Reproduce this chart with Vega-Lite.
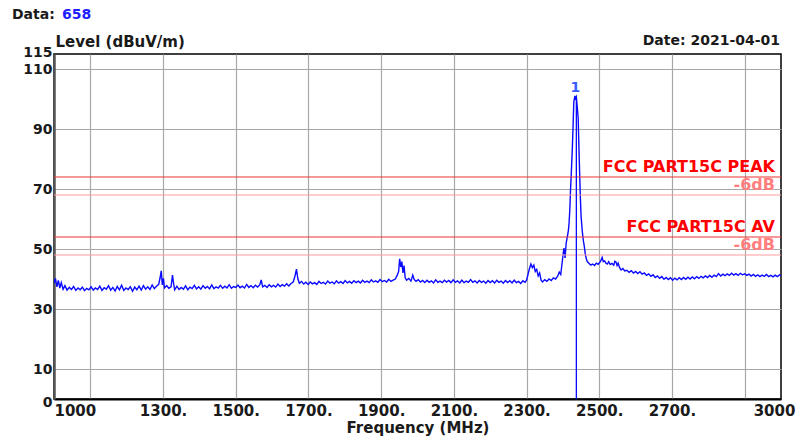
{
  "$schema": "https://vega.github.io/schema/vega-lite/v6.json",
  "width": 727,
  "height": 345,
  "autosize": {"type": "none"},
  "padding": {"left": 54, "top": 54, "right": 14, "bottom": 42},
  "background": "white",
  "config": {
    "font": "DejaVu Sans",
    "view": {"stroke": "black", "strokeWidth": 1.5}
  },
  "datasets": {
    "trace": [
      {"f":1000,"v":38.6},{"f":1004,"v":40.2},{"f":1008,"v":37.4},{"f":1012,"v":39.5},{"f":1016,"v":37.0},{"f":1020,"v":38.8},{"f":1025,"v":36.6},{"f":1030,"v":37.8},{"f":1036,"v":36.3},{"f":1042,"v":37.2},{"f":1048,"v":36.5},{"f":1054,"v":37.5},{"f":1060,"v":36.2},{"f":1066,"v":37.0},{"f":1072,"v":36.4},{"f":1078,"v":37.3},{"f":1084,"v":36.1},{"f":1090,"v":36.9},{"f":1096,"v":36.4},{"f":1102,"v":37.4},{"f":1108,"v":36.3},{"f":1114,"v":37.0},{"f":1120,"v":36.5},{"f":1126,"v":37.6},{"f":1132,"v":36.2},{"f":1138,"v":37.1},{"f":1144,"v":36.6},{"f":1150,"v":37.8},{"f":1156,"v":36.3},{"f":1162,"v":37.2},{"f":1168,"v":36.0},{"f":1174,"v":37.5},{"f":1180,"v":36.4},{"f":1186,"v":37.9},{"f":1192,"v":36.2},{"f":1198,"v":37.0},{"f":1204,"v":36.5},{"f":1210,"v":37.4},{"f":1216,"v":35.9},{"f":1222,"v":37.3},{"f":1228,"v":36.4},{"f":1234,"v":37.6},{"f":1240,"v":36.3},{"f":1246,"v":37.8},{"f":1252,"v":36.6},{"f":1258,"v":37.4},{"f":1264,"v":36.5},{"f":1270,"v":38.0},{"f":1276,"v":36.8},{"f":1282,"v":37.6},{"f":1288,"v":38.2},{"f":1292,"v":40.5},{"f":1295,"v":42.7},{"f":1298,"v":38.0},{"f":1301,"v":40.2},{"f":1304,"v":37.0},{"f":1310,"v":37.8},{"f":1316,"v":36.9},{"f":1322,"v":37.4},{"f":1326,"v":41.3},{"f":1329,"v":38.5},{"f":1332,"v":36.4},
      {"f":1338,"v":37.6},{"f":1344,"v":36.5},{"f":1350,"v":37.2},{"f":1356,"v":36.6},{"f":1362,"v":37.7},{"f":1368,"v":36.4},{"f":1374,"v":37.3},{"f":1380,"v":36.8},{"f":1386,"v":37.9},{"f":1392,"v":36.7},{"f":1398,"v":37.4},{"f":1404,"v":36.6},{"f":1410,"v":37.8},{"f":1416,"v":36.9},{"f":1422,"v":37.5},{"f":1428,"v":36.7},{"f":1434,"v":38.0},{"f":1440,"v":36.8},{"f":1446,"v":37.4},{"f":1452,"v":37.0},{"f":1458,"v":37.9},{"f":1464,"v":36.9},{"f":1470,"v":37.6},{"f":1476,"v":37.0},{"f":1482,"v":38.1},{"f":1488,"v":36.9},{"f":1494,"v":37.5},{"f":1500,"v":37.2},{"f":1506,"v":38.0},{"f":1512,"v":37.1},{"f":1518,"v":37.6},{"f":1524,"v":37.0},{"f":1530,"v":38.2},{"f":1536,"v":37.2},{"f":1542,"v":37.8},{"f":1548,"v":37.1},{"f":1554,"v":37.9},{"f":1560,"v":37.3},{"f":1566,"v":38.0},{"f":1570,"v":39.7},{"f":1574,"v":37.4},{"f":1580,"v":37.9},{"f":1586,"v":37.2},{"f":1592,"v":38.1},{"f":1598,"v":37.4},{"f":1604,"v":37.9},{"f":1610,"v":37.3},{"f":1616,"v":38.3},{"f":1622,"v":37.5},{"f":1628,"v":38.1},{"f":1634,"v":37.6},{"f":1640,"v":38.4},{"f":1646,"v":37.7},{"f":1652,"v":38.5},{"f":1658,"v":39.0},{"f":1663,"v":41.0},{"f":1667,"v":43.3},{"f":1671,"v":40.0},{"f":1675,"v":38.6},{"f":1681,"v":39.2},{"f":1687,"v":38.3},
      {"f":1693,"v":38.9},{"f":1699,"v":38.2},{"f":1705,"v":39.0},{"f":1711,"v":38.4},{"f":1717,"v":38.8},{"f":1723,"v":38.2},{"f":1729,"v":39.2},{"f":1735,"v":38.5},{"f":1741,"v":38.9},{"f":1747,"v":38.3},{"f":1753,"v":39.3},{"f":1759,"v":38.6},{"f":1765,"v":39.0},{"f":1771,"v":38.4},{"f":1777,"v":39.4},{"f":1783,"v":38.6},{"f":1789,"v":39.1},{"f":1795,"v":38.5},{"f":1801,"v":39.5},{"f":1807,"v":38.7},{"f":1813,"v":39.2},{"f":1819,"v":38.6},{"f":1825,"v":39.4},{"f":1831,"v":38.8},{"f":1837,"v":39.3},{"f":1843,"v":38.7},{"f":1849,"v":39.6},{"f":1855,"v":38.9},{"f":1861,"v":39.3},{"f":1867,"v":38.8},{"f":1873,"v":39.7},{"f":1879,"v":39.0},{"f":1885,"v":39.4},{"f":1891,"v":38.9},{"f":1897,"v":39.8},{"f":1903,"v":39.1},{"f":1909,"v":39.5},{"f":1915,"v":39.0},{"f":1921,"v":39.9},{"f":1927,"v":39.2},{"f":1933,"v":39.6},{"f":1939,"v":40.0},{"f":1944,"v":41.2},{"f":1948,"v":42.5},{"f":1951,"v":46.7},{"f":1954,"v":44.0},{"f":1957,"v":45.8},{"f":1960,"v":42.0},{"f":1963,"v":44.5},{"f":1966,"v":40.5},{"f":1970,"v":39.6},{"f":1976,"v":40.2},{"f":1982,"v":39.3},{"f":1987,"v":41.3},{"f":1991,"v":39.8},{"f":1996,"v":39.2},
      {"f":2002,"v":39.8},{"f":2008,"v":39.0},{"f":2014,"v":39.5},{"f":2020,"v":38.8},{"f":2026,"v":39.6},{"f":2032,"v":38.9},{"f":2038,"v":39.4},{"f":2044,"v":38.7},{"f":2050,"v":39.7},{"f":2056,"v":38.9},{"f":2062,"v":39.3},{"f":2068,"v":38.8},{"f":2074,"v":39.6},{"f":2080,"v":39.0},{"f":2086,"v":39.5},{"f":2092,"v":38.8},{"f":2098,"v":39.7},{"f":2104,"v":38.9},{"f":2110,"v":39.4},{"f":2116,"v":38.7},{"f":2122,"v":39.6},{"f":2128,"v":38.8},{"f":2134,"v":39.3},{"f":2140,"v":38.9},{"f":2146,"v":39.8},{"f":2152,"v":38.9},{"f":2158,"v":39.4},{"f":2164,"v":38.7},{"f":2170,"v":39.5},{"f":2176,"v":38.9},{"f":2182,"v":39.3},{"f":2188,"v":38.6},{"f":2194,"v":39.5},{"f":2200,"v":38.8},{"f":2206,"v":39.4},{"f":2212,"v":38.7},{"f":2218,"v":39.6},{"f":2224,"v":38.9},{"f":2230,"v":39.3},{"f":2236,"v":38.6},{"f":2242,"v":39.5},{"f":2248,"v":38.8},{"f":2254,"v":39.4},{"f":2260,"v":38.7},{"f":2266,"v":39.6},{"f":2272,"v":38.8},{"f":2278,"v":39.2},{"f":2284,"v":38.5},{"f":2290,"v":39.4},{"f":2296,"v":38.9},{"f":2300,"v":39.6},{"f":2304,"v":41.5},{"f":2308,"v":43.5},{"f":2312,"v":45.0},{"f":2316,"v":43.8},{"f":2320,"v":44.6},{"f":2324,"v":42.5},{"f":2328,"v":43.2},{"f":2332,"v":41.0},{"f":2336,"v":42.0},{"f":2340,"v":39.6},{"f":2344,"v":39.0},{"f":2350,"v":39.8},{"f":2356,"v":39.2},{"f":2362,"v":40.0},{"f":2368,"v":39.5},{"f":2374,"v":40.4},{"f":2380,"v":40.0},{"f":2386,"v":41.0},{"f":2390,"v":42.3},{"f":2394,"v":41.5},{"f":2398,"v":45.5},{"f":2401,"v":48.7},{"f":2403,"v":50.3},{"f":2406,"v":47.0},{"f":2409,"v":52.0},{"f":2412,"v":54.0},{"f":2415,"v":56.0},{"f":2417,"v":58.7},{"f":2419,"v":63.0},{"f":2421,"v":69.7},{"f":2423,"v":75.0},{"f":2426,"v":83.7},{"f":2428,"v":91.0},{"f":2430,"v":99.0},{"f":2433,"v":101.0},{"f":2435,"v":100.2},{"f":2437,"v":100.7},{"f":2439,"v":98.0},{"f":2442,"v":93.7},{"f":2445,"v":79.7},{"f":2448,"v":67.4},{"f":2450,"v":61.0},{"f":2453,"v":56.3},{"f":2456,"v":53.0},{"f":2459,"v":50.8},{"f":2462,"v":48.0},{"f":2465,"v":46.5},{"f":2467,"v":45.8},{"f":2472,"v":45.2},{"f":2477,"v":44.6},{"f":2482,"v":45.0},{"f":2487,"v":44.5},{"f":2492,"v":45.3},{"f":2497,"v":44.9},{"f":2502,"v":45.6},{"f":2505,"v":46.3},{"f":2508,"v":47.2},{"f":2511,"v":45.8},{"f":2515,"v":46.0},{"f":2518,"v":45.3},{"f":2522,"v":45.0},{"f":2526,"v":45.8},{"f":2530,"v":44.8},{"f":2535,"v":45.2},{"f":2540,"v":44.6},{"f":2543,"v":45.9},{"f":2546,"v":45.7},{"f":2549,"v":44.5},{"f":2552,"v":45.3},{"f":2556,"v":43.8},{"f":2560,"v":43.0},{"f":2565,"v":43.5},{"f":2570,"v":42.7},{"f":2576,"v":42.9},{"f":2582,"v":42.2},{"f":2588,"v":42.8},{"f":2594,"v":42.0},{"f":2600,"v":42.5},{"f":2606,"v":41.8},{"f":2612,"v":42.4},{"f":2618,"v":41.6},{"f":2624,"v":42.0},{"f":2630,"v":41.2},{"f":2636,"v":41.7},{"f":2642,"v":40.9},{"f":2648,"v":41.4},{"f":2654,"v":40.5},{"f":2660,"v":41.0},{"f":2666,"v":40.2},{"f":2672,"v":40.8},{"f":2678,"v":39.9},{"f":2684,"v":40.5},{"f":2690,"v":39.8},{"f":2696,"v":40.4},{"f":2702,"v":39.6},{"f":2708,"v":40.3},{"f":2714,"v":39.7},{"f":2720,"v":40.4},{"f":2726,"v":39.8},{"f":2732,"v":40.5},{"f":2738,"v":39.9},{"f":2744,"v":40.6},{"f":2750,"v":40.0},{"f":2756,"v":40.7},{"f":2762,"v":40.1},{"f":2768,"v":40.8},{"f":2774,"v":40.2},{"f":2780,"v":40.9},{"f":2786,"v":40.4},{"f":2792,"v":41.0},{"f":2798,"v":40.5},{"f":2804,"v":41.2},{"f":2810,"v":40.6},{"f":2816,"v":41.3},{"f":2822,"v":40.8},{"f":2828,"v":41.8},{"f":2834,"v":41.0},{"f":2840,"v":41.6},{"f":2846,"v":41.1},{"f":2852,"v":41.7},{"f":2858,"v":41.2},{"f":2864,"v":41.9},{"f":2870,"v":41.3},{"f":2876,"v":41.8},{"f":2882,"v":41.2},{"f":2888,"v":41.9},{"f":2894,"v":41.4},{"f":2900,"v":41.7},{"f":2906,"v":41.2},{"f":2912,"v":41.6},{"f":2918,"v":41.0},{"f":2924,"v":41.5},{"f":2930,"v":40.9},{"f":2936,"v":41.4},{"f":2942,"v":40.8},{"f":2948,"v":41.3},{"f":2954,"v":40.9},{"f":2960,"v":41.5},{"f":2966,"v":40.8},{"f":2972,"v":41.2},{"f":2978,"v":40.7},{"f":2984,"v":41.3},{"f":2990,"v":40.8},{"f":2996,"v":41.4},{"f":3000,"v":41.0}
    ],
    "limits": [
      {"v": 74, "label": "FCC PART15C PEAK", "kind": "limit"},
      {"v": 68, "label": "-6dB", "kind": "margin"},
      {"v": 54, "label": "FCC PART15C AV", "kind": "limit"},
      {"v": 48, "label": "-6dB", "kind": "margin"}
    ],
    "peak": [{"f": 2437, "v": 100.7, "label": "1"}]
  },
  "layer": [
    {
      "data": {"name": "trace"},
      "mark": {"type": "line", "color": "#0a0aff", "strokeWidth": 1.4, "clip": true},
      "encoding": {
        "x": {
          "field": "f", "type": "quantitative", "title": "Frequency (MHz)",
          "scale": {"domain": [1000, 3000], "nice": false, "zero": false},
          "axis": {
            "values": [1000, 1100, 1300, 1500, 1700, 1900, 2100, 2300, 2500, 2700, 2900, 3000],
            "labelExpr": "datum.value == 1000 || datum.value == 3000 ? '' + datum.value : (datum.value == 1100 || datum.value == 2900 ? '' : datum.value + '.')",
            "grid": true,
            "gridColor": {"condition": {"test": "datum.value == 1000 || datum.value == 3000", "value": "rgba(0,0,0,0)"}, "value": "#a8a8a8"},
            "gridWidth": 1.2,
            "ticks": false,
            "domainColor": "black",
            "domainWidth": 2,
            "labelFont": "DejaVu Sans", "labelFontSize": 15, "labelFontWeight": "bold", "labelColor": "#1a1a1a",
            "labelAlign": {"condition": {"test": "datum.value == 1000", "value": "left"}, "value": "center"},
            "labelOffset": {"condition": {"test": "datum.value == 3000", "value": -7}, "value": 0},
            "labelFlush": false, "labelOverlap": false,
            "labelPadding": 4,
            "titleFont": "DejaVu Sans", "titleFontSize": 15, "titleFontWeight": "bold", "titleColor": "#1a1a1a",
            "titlePadding": 2
          }
        },
        "y": {
          "field": "v", "type": "quantitative", "title": "Level (dBuV/m)",
          "scale": {"domain": [0, 115], "nice": false, "zero": true},
          "axis": {
            "values": [0, 10, 30, 50, 70, 90, 110, 115],
            "grid": true,
            "gridColor": {"condition": {"test": "datum.value == 0 || datum.value == 115", "value": "rgba(0,0,0,0)"}, "value": "#a8a8a8"},
            "gridWidth": 1.2,
            "ticks": false,
            "domainColor": "#555555",
            "domainWidth": 2.5,
            "labelFont": "DejaVu Sans", "labelFontSize": 14, "labelFontWeight": "bold", "labelColor": "#1a1a1a",
            "labelFlush": false, "labelOverlap": false,
            "labelOffset": {"condition": [{"test": "datum.value == 115", "value": -2}, {"test": "datum.value == 0", "value": 3}], "value": 0},
            "labelPadding": 2,
            "titleFont": "DejaVu Sans", "titleFontSize": 15, "titleFontWeight": "bold", "titleColor": "#1a1a1a",
            "titleAngle": 0, "titleAlign": "left", "titleBaseline": "alphabetic",
            "titleX": 1, "titleY": -8
          }
        }
      }
    },
    {
      "data": {"name": "limits"},
      "mark": {"type": "rule", "strokeWidth": 1.2},
      "encoding": {
        "y": {"field": "v", "type": "quantitative", "title": "Level (dBuV/m)"},
        "color": {"condition": {"test": "datum.kind == 'limit'", "value": "#ee3333"}, "value": "#ff9c9c"}
      }
    },
    {
      "data": {"name": "limits"},
      "mark": {"type": "text", "align": "right", "baseline": "alphabetic", "dx": -6, "dy": -5, "font": "DejaVu Sans", "fontSize": 16, "fontWeight": "bold"},
      "encoding": {
        "x": {"datum": 3000, "type": "quantitative"},
        "y": {"field": "v", "type": "quantitative", "title": "Level (dBuV/m)"},
        "text": {"field": "label", "type": "nominal"},
        "color": {"condition": {"test": "datum.kind == 'limit'", "value": "#ff0000"}, "value": "#ff7f7f"}
      }
    },
    {
      "data": {"name": "peak"},
      "mark": {"type": "rule", "color": "#0a0aff", "strokeWidth": 1.3},
      "encoding": {
        "x": {"field": "f", "type": "quantitative", "title": "Frequency (MHz)"},
        "y": {"field": "v", "type": "quantitative", "title": "Level (dBuV/m)"},
        "y2": {"datum": 0}
      }
    },
    {
      "data": {"name": "peak"},
      "mark": {"type": "text", "align": "center", "baseline": "alphabetic", "dx": -1, "dy": -5, "font": "DejaVu Sans", "fontSize": 14, "fontWeight": "bold", "color": "#3a5cff"},
      "encoding": {
        "x": {"field": "f", "type": "quantitative", "title": "Frequency (MHz)"},
        "y": {"field": "v", "type": "quantitative", "title": "Level (dBuV/m)"},
        "text": {"field": "label", "type": "nominal"}
      }
    },
    {
      "data": {"values": [{"t": "Data:"}]},
      "mark": {"type": "text", "align": "left", "baseline": "alphabetic", "dx": -42, "dy": -35, "font": "DejaVu Sans", "fontSize": 14, "fontWeight": "bold", "color": "#1a1a1a"},
      "encoding": {"x": {"datum": 1000, "type": "quantitative"}, "y": {"datum": 115, "type": "quantitative"}, "text": {"field": "t", "type": "nominal"}}
    },
    {
      "data": {"values": [{"t": "658"}]},
      "mark": {"type": "text", "align": "left", "baseline": "alphabetic", "dx": 8, "dy": -35, "font": "DejaVu Sans", "fontSize": 14, "fontWeight": "bold", "color": "#2020ff"},
      "encoding": {"x": {"datum": 1000, "type": "quantitative"}, "y": {"datum": 115, "type": "quantitative"}, "text": {"field": "t", "type": "nominal"}}
    },
    {
      "data": {"values": [{"t": "Date: 2021-04-01"}]},
      "mark": {"type": "text", "align": "right", "baseline": "alphabetic", "dx": -1, "dy": -9, "font": "DejaVu Sans", "fontSize": 14, "fontWeight": "bold", "color": "#1a1a1a"},
      "encoding": {"x": {"datum": 3000, "type": "quantitative"}, "y": {"datum": 115, "type": "quantitative"}, "text": {"field": "t", "type": "nominal"}}
    }
  ]
}
